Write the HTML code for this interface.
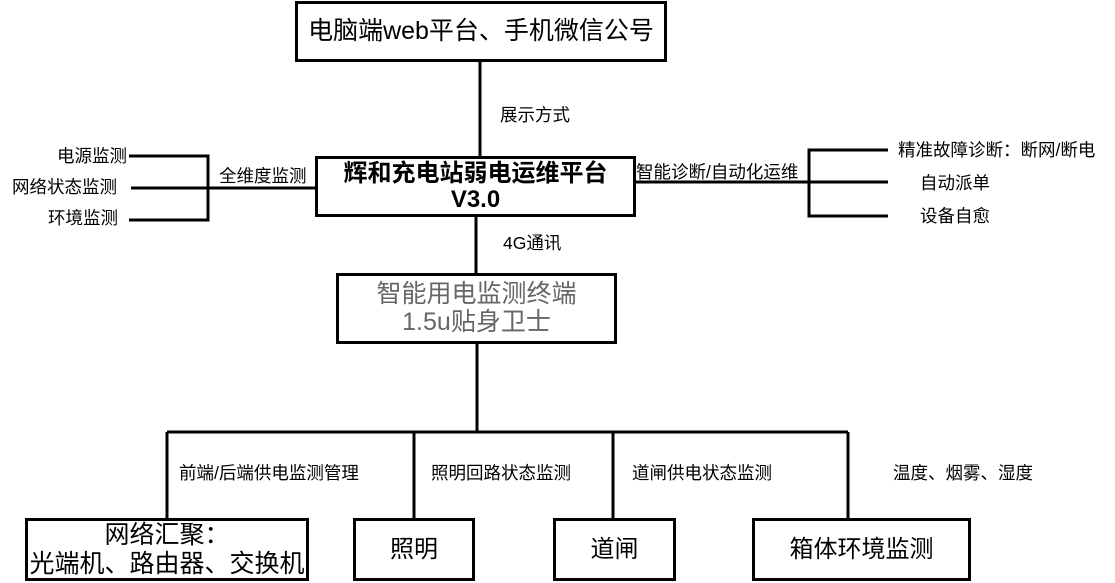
<!DOCTYPE html>
<html><head><meta charset="utf-8"><style>
body{margin:0;width:1115px;height:583px;background:#fff;position:relative;overflow:hidden;font-family:"Liberation Sans","Noto Sans CJK SC",sans-serif;color:#000}
.b{position:absolute;box-sizing:border-box;border:3px solid #000;background:#fff;display:flex;align-items:center;justify-content:center;text-align:center;line-height:1.15;white-space:nowrap}
.t{position:absolute;font-size:17.5px;white-space:nowrap;line-height:18px}
svg{position:absolute;left:0;top:0}
</style></head><body>
<svg width="1115" height="583"><g stroke="#000" stroke-width="3" fill="none">
<line x1="480" y1="60" x2="480" y2="157"/>
<line x1="476" y1="216" x2="476" y2="274"/>
<line x1="477" y1="342" x2="477" y2="433"/>
<line x1="167" y1="432" x2="848" y2="432"/>
<line x1="167" y1="432" x2="167" y2="520"/>
<line x1="414" y1="432" x2="414" y2="520"/>
<line x1="613" y1="432" x2="613" y2="520"/>
<line x1="848" y1="432" x2="848" y2="520"/>
<polyline points="129,156 208,156 208,220 129,220"/>
<line x1="131" y1="188" x2="316" y2="188"/>
<line x1="635" y1="182" x2="888" y2="182"/>
<polyline points="888,150 809,150 809,216 888,216"/>
</g></svg>
<div class="b" style="left:295px;top:1px;width:372px;height:61px;font-size:25px">电脑端web平台、手机微信公号</div>
<div class="b" style="left:315px;top:156px;width:321px;height:61px;font-size:24px;font-weight:bold;line-height:1.05">辉和充电站弱电运维平台<br>V3.0</div>
<div class="b" style="left:336px;top:273px;width:281px;height:71px;font-size:25px;color:#666;line-height:1.1">智能用电监测终端<br>1.5u贴身卫士</div>
<div class="b" style="left:25px;top:518px;width:284px;height:63px;font-size:25px;line-height:1.15">网络汇聚：<br>光端机、路由器、交换机</div>
<div class="b" style="left:353px;top:518px;width:122px;height:63px;font-size:24px">照明</div>
<div class="b" style="left:553px;top:518px;width:123px;height:63px;font-size:24px">道闸</div>
<div class="b" style="left:752px;top:518px;width:219px;height:63px;font-size:24px">箱体环境监测</div>
<div class="t" style="left:500px;top:106px">展示方式</div>
<div class="t" style="left:503px;top:234px">4G通讯</div>
<div class="t" style="left:57px;top:147px">电源监测</div>
<div class="t" style="left:12px;top:178px">网络状态监测</div>
<div class="t" style="left:48px;top:209px">环境监测</div>
<div class="t" style="left:219px;top:167px">全维度监测</div>
<div class="t" style="left:636px;top:163px">智能诊断/自动化运维</div>
<div class="t" style="left:898px;top:141px">精准故障诊断：断网/断电</div>
<div class="t" style="left:920px;top:174px">自动派单</div>
<div class="t" style="left:920px;top:207px">设备自愈</div>
<div class="t" style="left:179px;top:464px">前端/后端供电监测管理</div>
<div class="t" style="left:431px;top:464px">照明回路状态监测</div>
<div class="t" style="left:632px;top:464px">道闸供电状态监测</div>
<div class="t" style="left:893px;top:464px">温度、烟雾、湿度</div>
</body></html>
